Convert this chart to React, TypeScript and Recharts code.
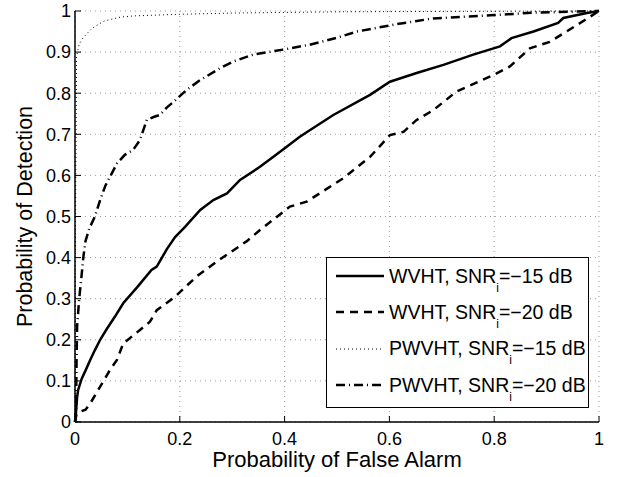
import {
  LineChart,
  Line,
  XAxis,
  YAxis,
  CartesianGrid,
  Legend,
} from "recharts";

// Probability of false alarm (x) / detection (y)
const wvht15Pfa = [0, 0.002, 0.004, 0.006, 0.013, 0.02, 0.029, 0.038, 0.048, 0.06, 0.076, 0.092, 0.12, 0.146, 0.156, 0.175, 0.191, 0.21, 0.239, 0.264, 0.29, 0.315, 0.353, 0.378, 0.404, 0.429, 0.448, 0.493, 0.563, 0.601, 0.652, 0.703, 0.76, 0.811, 0.833, 0.875, 0.922, 0.932, 0.977, 1];
const wvht15Pd = [0, 0.025, 0.06, 0.078, 0.106, 0.125, 0.151, 0.175, 0.2, 0.225, 0.256, 0.289, 0.33, 0.37, 0.378, 0.42, 0.45, 0.475, 0.516, 0.54, 0.556, 0.589, 0.621, 0.645, 0.67, 0.694, 0.71, 0.747, 0.796, 0.828, 0.849, 0.869, 0.894, 0.914, 0.934, 0.95, 0.971, 0.983, 0.995, 1];

const wvht20Pfa = [0, 0.003, 0.01, 0.02, 0.029, 0.048, 0.067, 0.08, 0.092, 0.124, 0.143, 0.156, 0.191, 0.232, 0.27, 0.328, 0.353, 0.41, 0.442, 0.512, 0.563, 0.601, 0.627, 0.652, 0.684, 0.728, 0.798, 0.83, 0.868, 0.906, 0.938, 0.973, 1];
const wvht20Pd = [0, 0.02, 0.025, 0.03, 0.045, 0.086, 0.127, 0.151, 0.191, 0.224, 0.244, 0.272, 0.305, 0.354, 0.39, 0.44, 0.467, 0.524, 0.536, 0.593, 0.645, 0.698, 0.706, 0.735, 0.759, 0.804, 0.844, 0.865, 0.909, 0.925, 0.95, 0.978, 1];

const pwvht15Pfa = [0, 0.001, 0.003, 0.008, 0.015, 0.022, 0.032, 0.045, 0.057, 0.086, 0.111, 0.2, 0.3, 0.5, 0.7, 1];
const pwvht15Pd = [0, 0.5, 0.89, 0.919, 0.934, 0.944, 0.957, 0.968, 0.976, 0.985, 0.988, 0.992, 0.995, 0.998, 0.999, 1];

const pwvht20Pfa = [0, 0.002, 0.003, 0.004, 0.008, 0.013, 0.016, 0.02, 0.027, 0.038, 0.048, 0.058, 0.067, 0.08, 0.095, 0.111, 0.124, 0.137, 0.15, 0.162, 0.175, 0.188, 0.213, 0.239, 0.277, 0.302, 0.34, 0.397, 0.448, 0.5, 0.538, 0.614, 0.684, 0.8, 0.875, 1];
const pwvht20Pd = [0, 0.03, 0.15, 0.232, 0.3, 0.362, 0.402, 0.44, 0.47, 0.5, 0.54, 0.575, 0.597, 0.629, 0.65, 0.662, 0.686, 0.735, 0.742, 0.747, 0.765, 0.779, 0.808, 0.832, 0.861, 0.877, 0.894, 0.906, 0.918, 0.935, 0.95, 0.968, 0.982, 0.99, 0.996, 1];

const xTicks = [0, 0.2, 0.4, 0.6, 0.8, 1];
const yTicks = [0, 0.1, 0.2, 0.3, 0.4, 0.5, 0.6, 0.7, 0.8, 0.9, 1];

const zip = (xs: number[], ys: number[]) => xs.map((x, i) => ({ x, y: ys[i] }));

const SERIES = [
  { name: "WVHT", snr: "−15", data: zip(wvht15Pfa, wvht15Pd), width: 2.5, dash: undefined },
  { name: "WVHT", snr: "−20", data: zip(wvht20Pfa, wvht20Pd), width: 2.5, dash: "8 6" },
  { name: "PWVHT", snr: "−15", data: zip(pwvht15Pfa, pwvht15Pd), width: 1, dash: "1 3" },
  { name: "PWVHT", snr: "−20", data: zip(pwvht20Pfa, pwvht20Pd), width: 2.5, dash: "9 4 1 4" },
];

const FONT = "'Liberation Sans', Arial, Helvetica, sans-serif";

function RocLegend() {
  return (
    <div
      style={{
        width: "100%",
        height: "100%",
        boxSizing: "border-box",
        border: "1px solid #000",
        background: "#fff",
        marginTop: -1,
        fontFamily: FONT,
        fontSize: 19.5,
        color: "#000",
      }}
    >
      {SERIES.map((s, i) => (
        <div key={i} style={{ display: "flex", alignItems: "center", height: 36.3, whiteSpace: "nowrap" }}>
          <svg width={62} height={10} style={{ flexShrink: 0 }}>
            <line x1={9} x2={57} y1={5} y2={5} stroke="#000" strokeWidth={s.width} strokeDasharray={s.dash} />
          </svg>
          <span>
            {s.name}, SNR
            <span style={{ fontSize: 12, position: "relative", top: 9 }}>i</span>
            ={s.snr} dB
          </span>
        </div>
      ))}
    </div>
  );
}

export default function App() {
  return (
    <div style={{ position: "absolute", left: 0, top: 0, background: "#fff" }}>
      <LineChart
        width={618}
        height={477}
        margin={{ top: 11, right: 19, bottom: 0, left: 0 }}
        style={{ fontFamily: FONT }}
      >
        <CartesianGrid stroke="#999" strokeDasharray="1 4" />
        <XAxis
          dataKey="x"
          type="number"
          domain={[0, 1]}
          ticks={xTicks}
          height={55}
          tickSize={-6}
          tickMargin={16}
          tick={{ fontSize: 18, fill: "#000" }}
          axisLine={{ stroke: "#000", strokeWidth: 1.5 }}
          tickLine={{ stroke: "#000" }}
          label={{ value: "Probability of False Alarm", position: "insideBottom", offset: 10, fontSize: 22, fill: "#000" }}
        />
        <XAxis
          xAxisId="top"
          orientation="top"
          type="number"
          domain={[0, 1]}
          ticks={xTicks}
          height={0}
          tickSize={-6}
          tickFormatter={() => ""}
          axisLine={{ stroke: "#000", strokeWidth: 1.5 }}
          tickLine={{ stroke: "#000" }}
        />
        <YAxis
          dataKey="y"
          type="number"
          domain={[0, 1]}
          ticks={yTicks}
          width={75}
          tickSize={-6}
          tickMargin={10}
          tick={{ fontSize: 18, fill: "#000" }}
          axisLine={{ stroke: "#000", strokeWidth: 1.5 }}
          tickLine={{ stroke: "#000" }}
          label={{
            value: "Probability of Detection",
            angle: -90,
            position: "insideLeft",
            offset: 24,
            fontSize: 21.5,
            fill: "#000",
            style: { textAnchor: "middle" },
          }}
        />
        <YAxis
          yAxisId="right"
          orientation="right"
          type="number"
          domain={[0, 1]}
          ticks={yTicks}
          width={0}
          tickSize={-6}
          tickFormatter={() => ""}
          axisLine={{ stroke: "#000", strokeWidth: 1.5 }}
          tickLine={{ stroke: "#000" }}
        />
        {SERIES.map((s, i) => (
          <Line
            key={i}
            data={s.data}
            dataKey="y"
            name={`${s.name} ${s.snr}`}
            type="linear"
            stroke="#000"
            strokeWidth={s.width}
            strokeDasharray={s.dash}
            dot={false}
            isAnimationActive={false}
          />
        ))}
        <Legend
          layout="vertical"
          align="center"
          verticalAlign="middle"
          content={<RocLegend />}
          wrapperStyle={{ left: 326, top: 258, width: 263, height: 151 }}
        />
      </LineChart>
    </div>
  );
}
